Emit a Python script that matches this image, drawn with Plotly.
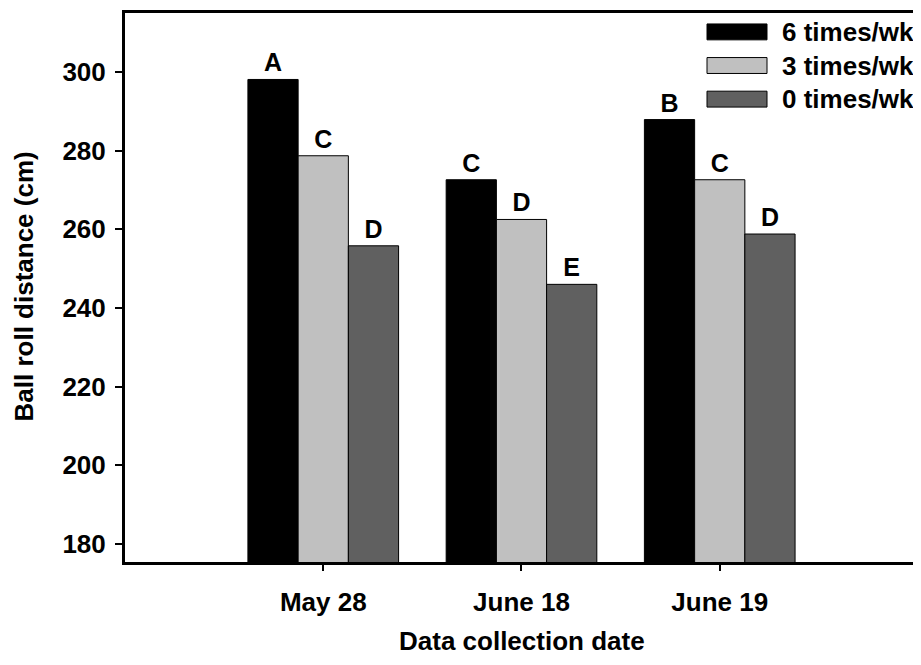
import plotly.graph_objects as go

categories = ["May 28", "June 18", "June 19"]
series_names = ["6 times/wk", "3 times/wk", "0 times/wk"]
values_6 = [298.1, 272.6, 287.9]
values_3 = [278.7, 262.5, 272.6]
values_0 = [255.8, 246.0, 258.8]
letters_6 = ["A", "C", "B"]
letters_3 = ["C", "D", "C"]
letters_0 = ["D", "E", "D"]
y_ticks = [180, 200, 220, 240, 260, 280, 300]

colors = ["#000000", "#C0C0C0", "#606060"]
FONT = "Liberation Sans, Arial, sans-serif"

# page offset (body margin) compensation
OFF = 8
FW, FH = 921 - OFF, 665 - OFF
L, W, T, H = 125 - OFF, 791, 2, 562 - OFF - 2

fig = go.Figure()
xs = list(range(len(categories)))
for name, vals, lets, col in zip(series_names, [values_6, values_3, values_0],
                                 [letters_6, letters_3, letters_0], colors):
    fig.add_trace(go.Bar(
        x=xs, y=vals, name=name, text=lets, textposition="outside",
        textfont=dict(family=FONT, size=25, color="black", weight="bold"),
        marker=dict(color=col, line=dict(color="black", width=1)),
        cliponaxis=False, showlegend=False,
    ))

def px_x(p):  # page pixel -> paper
    return (p - OFF - L) / W
def px_y(p):
    return (T + H - (p - OFF)) / H

for i, (name, col) in enumerate(zip(series_names, colors)):
    cy = 29 + i * 33.8
    fig.add_shape(type="rect", xref="paper", yref="paper",
                  x0=px_x(707), x1=px_x(767), y0=px_y(cy + 8), y1=px_y(cy - 8),
                  fillcolor=col, line=dict(color="black", width=1))
    fig.add_annotation(xref="paper", yref="paper", x=px_x(780), y=px_y(cy),
                       xanchor="left", yanchor="middle", showarrow=False,
                       text=name,
                       font=dict(family=FONT, size=26, color="black", weight="bold"))

fig.add_annotation(xref="paper", yref="paper", x=px_x(24), y=px_y(285),
                   textangle=-90, showarrow=False, xanchor="center", yanchor="middle",
                   text="Ball roll distance (cm)",
                   font=dict(family=FONT, size=26, color="black", weight="bold"))
fig.add_annotation(xref="paper", yref="paper", x=px_x(522), y=px_y(641),
                   showarrow=False, xanchor="center", yanchor="middle",
                   text="Data collection date",
                   font=dict(family=FONT, size=26, color="black", weight="bold"))

fig.update_layout(
    width=FW, height=FH,
    margin=dict(l=L, r=FW - L - W, t=T, b=FH - T - H),
    paper_bgcolor="white", plot_bgcolor="white",
    barmode="group", bargap=0.24, bargroupgap=0,
    font=dict(family=FONT, color="black"),
    xaxis=dict(
        range=[-1, 2.99], tickmode="array", tickvals=xs, ticktext=categories,
        showgrid=False, zeroline=False,
        showline=True, linecolor="black", linewidth=3, mirror=True,
        ticks="outside", ticklen=6, tickwidth=1.5, tickcolor="black",
        ticklabelstandoff=9,
        tickfont=dict(family=FONT, size=26, color="black", weight="bold"),
    ),
    yaxis=dict(
        range=[175.4, 315], tickmode="array", tickvals=y_ticks,
        showgrid=False, zeroline=False,
        showline=True, linecolor="black", linewidth=3, mirror=True,
        ticks="outside", ticklen=7, tickwidth=1.5, tickcolor="black",
        ticklabelstandoff=4,
        tickfont=dict(family=FONT, size=26, color="black", weight="bold"),
    ),
)

fig.write_html("out.html")
